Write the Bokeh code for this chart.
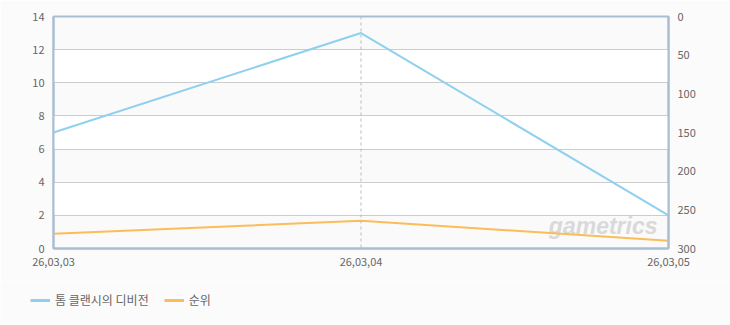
from bokeh.plotting import figure
from bokeh.layouts import column
from bokeh.models import (Range1d, LinearAxis, FixedTicker, Span, Legend, LegendItem,
                          ColumnDataSource, CustomJSTickFormatter)
from bokeh.core.properties import value
from bokeh.embed import file_html
from bokeh.resources import INLINE

dates = ["26,03,03", "26,03,04", "26,03,05"]
viewers = [7, 13, 2]
rank = [281, 264, 290]
left_ticks = [0, 2, 4, 6, 8, 10, 12, 14]
right_ticks = [0, 50, 100, 150, 200, 250, 300]
series_names = ["톰 클랜시의 디비전", "순위"]

FONT = "Noto Sans CJK KR"
TXT = "#666666"
BORDER = "#a9bdd3"
BLUE = "#8fd0ef"
ORANGE = "#fbbc5a"
PAGE = "#fbfbfb"

x = list(range(len(dates)))
src = ColumnDataSource(dict(x=x, viewers=viewers, rank=rank))

p = figure(width=730, height=280, output_backend="svg", toolbar_location=None,
           x_range=Range1d(0, len(dates) - 1), y_range=Range1d(0, 14),
           min_border_left=53, min_border_right=62, min_border_top=16, min_border_bottom=32)
p.background_fill_color = "#fafafa"
p.border_fill_color = PAGE
p.outline_line_color = BORDER
p.outline_line_width = 2

p.extra_y_ranges = {"rank": Range1d(300, 0)}

p.xgrid.visible = False
p.ygrid.grid_line_color = "#cccccc"
p.ygrid.grid_line_width = 1
p.ygrid.band_fill_color = "#ffffff"
p.ygrid.band_fill_alpha = 1.0

p.yaxis[0].ticker = FixedTicker(ticks=left_ticks)
p.xaxis.ticker = FixedTicker(ticks=x)
p.xaxis.formatter = CustomJSTickFormatter(args=dict(labels=dates), code="return labels[tick];")

p.add_layout(LinearAxis(y_range_name="rank", ticker=FixedTicker(ticks=right_ticks)), "right")

for ax in p.axis:
    ax.axis_line_color = BORDER
    ax.axis_line_width = 2
    ax.major_tick_line_color = None
    ax.minor_tick_line_color = None
    ax.major_label_text_font = FONT
    ax.major_label_text_font_size = "11px"
    ax.major_label_text_color = TXT
    ax.major_label_standoff = 3

span = Span(location=1, dimension="height", line_color="#bbbbbb", line_dash="3 3", line_width=1)
p.add_layout(span)

p.text(x=[2], y=[1.35], text=["gametrics"], text_font=value("Liberation Sans"),
       text_font_style="bold italic", text_font_size="23px", text_color="#d9d9d9",
       text_align="right", text_baseline="alphabetic", x_offset=[-11])

r1 = p.line("x", "viewers", source=src, line_color=BLUE, line_width=2)
r2 = p.line("x", "rank", source=src, y_range_name="rank", line_color=ORANGE, line_width=2)

# legend strip
lg = figure(width=730, height=45, output_backend="svg", toolbar_location=None,
            x_range=Range1d(0, 1), y_range=Range1d(0, 1),
            min_border_left=0, min_border_right=0, min_border_top=0, min_border_bottom=0)
if "frame_align" in lg.properties():
    lg.frame_align = False
lg.axis.visible = False
lg.grid.visible = False
lg.outline_line_color = None
lg.background_fill_color = PAGE
lg.border_fill_color = PAGE
d1 = lg.line(x=[-5, -4], y=[-5, -5], line_color=BLUE, line_width=3)
d2 = lg.line(x=[-5, -4], y=[-5, -5], line_color=ORANGE, line_width=3)
legend = Legend(items=[LegendItem(label=series_names[0], renderers=[d1]),
                       LegendItem(label=series_names[1], renderers=[d2])],
                orientation="horizontal", location=(30, 17),
                label_text_font=FONT, label_text_font_size="12px", label_text_color=TXT,
                glyph_width=20, glyph_height=10, spacing=15, label_standoff=5,
                background_fill_alpha=0, border_line_color=None,
                margin=0, padding=0)
lg.add_layout(legend, "center")

layout = column(p, lg, spacing=0)
open("out.html", "w").write(file_html(layout, INLINE))
